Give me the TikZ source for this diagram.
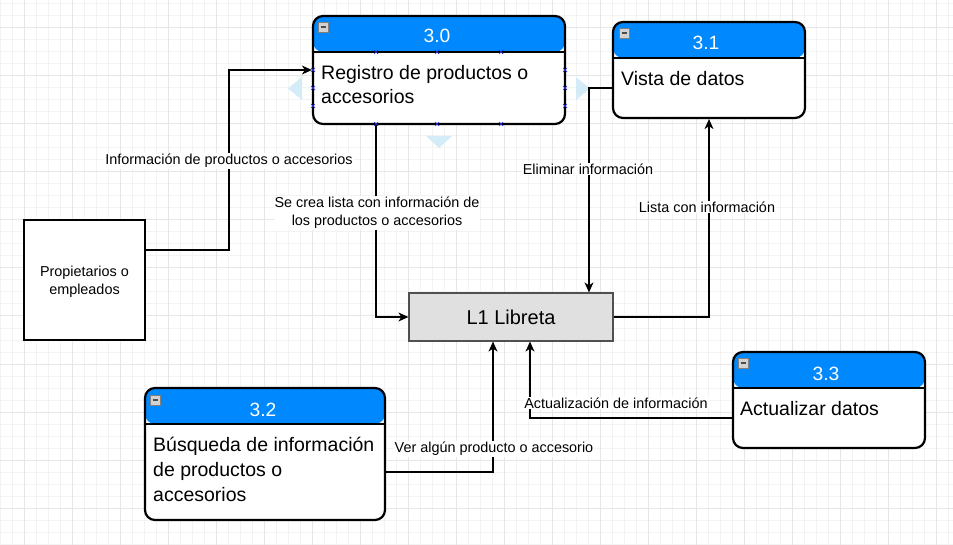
\documentclass[tikz,border=0pt]{standalone}
\usepackage{fontspec}
\setmainfont{Liberation Sans}
\usetikzlibrary{arrows.meta}
\definecolor{hdrblue}{RGB}{0,136,255}
\definecolor{gridminor}{RGB}{243,243,243}
\definecolor{gridmajor}{RGB}{230,230,230}
\definecolor{storefill}{RGB}{224,224,224}
\definecolor{storeline}{RGB}{80,80,80}
\definecolor{hintblue}{RGB}{212,236,248}
\definecolor{handleblue}{RGB}{40,40,230}
\begin{document}
\begin{tikzpicture}[x=1pt,y=-1pt,
  proc/.style={draw=black, line width=2.2pt, rounded corners=10pt, fill=white, inner sep=0pt,
    path picture={\fill[hdrblue] (path picture bounding box.north west) rectangle ([yshift=-#1]path picture bounding box.north east);
      \draw[black, line width=2pt] ([yshift=-#1]path picture bounding box.north west) -- ([yshift=-#1]path picture bounding box.north east);}},
  ptitle/.style={text=white, font=\fontsize{19.2}{23}\selectfont, inner sep=0pt},
  pbody/.style={align=left, font=\fontsize{19.5}{24.6}\selectfont, inner sep=0pt},
  store/.style={draw=storeline, line width=1.2pt, fill=storefill, inner sep=0pt, font=\fontsize{20}{24}\selectfont},
  extent/.style={draw=black, line width=2pt, fill=white, inner sep=0pt},
  lbl/.style={fill=white, inner sep=1pt, align=center, font=\fontsize{14.4}{18}\selectfont},
  flow/.style={draw=black, line width=1.2pt, -{Stealth[length=10pt,width=9pt,inset=3pt]}},
  handle/.style={draw=handleblue, line width=0.7pt},
  mini/.style={draw=gray, fill=gray!35, line width=0.6pt}
]
\useasboundingbox (0,0) rectangle (953,545);
\fill[white] (0,0) rectangle (953,545);
% grid
\foreach \x in {0,12,...,953} \draw[gridminor, line width=1pt] (\x,0) -- (\x,545);
\foreach \y in {4,16,...,545} \draw[gridminor, line width=1pt] (0,\y) -- (953,\y);
\foreach \x in {24,72,...,953} \draw[gridmajor, line width=1pt] (\x,0) -- (\x,545);
\foreach \y in {28,76,...,545} \draw[gridmajor, line width=1pt] (0,\y) -- (953,\y);

% hover hints around 3.0
\fill[hintblue] (302,77) -- (302,100) -- (288,88.5) -- cycle;
\fill[hintblue] (576,77) -- (576,100) -- (590,88.5) -- cycle;
\fill[hintblue] (426,136) -- (452,136) -- (439,148) -- cycle;

% nodes
\node[proc=36pt, minimum width=252pt, minimum height=108pt] (p30) at (439,70) {};
\node[proc=36pt, minimum width=192pt, minimum height=96pt] (p31) at (709,70) {};
\node[proc=36pt, minimum width=240pt, minimum height=132pt] (p32) at (265,454) {};
\node[proc=36pt, minimum width=192pt, minimum height=96pt] (p33) at (829,400) {};
\node[store, minimum width=204pt, minimum height=48pt] (L1) at (511,317) {L1 Libreta};
\node[extent, minimum width=121pt, minimum height=120pt] (ext) at (84.5,280) {};
\node[lbl, fill=none, inner sep=0pt, anchor=base] (exttext) at (84.5,295) {Propietarios o\\empleados};

% titles
\node[ptitle, anchor=base] (t30) at (437,43) {3.0};
\node[ptitle, anchor=base] (t31) at (706,50) {3.1};
\node[ptitle, anchor=base] (t32) at (263,416) {3.2};
\node[ptitle, anchor=base] (t33) at (826,380) {3.3};

% minus icons
\foreach \px/\py in {318/22, 619/28, 150/395, 738/358} {
  \draw[mini] (\px,\py) rectangle ++(10,10);
  \draw[black!70, line width=1.2pt] (\px+2.5,\py+5) -- ++(5,0);
}

% bodies (anchor base = baseline of the last line)
\node[pbody, anchor=base west] (b30) at (321,104) {Registro de productos o\\accesorios};
\node[pbody, anchor=base west] (b31) at (621,86) {Vista de datos};
\node[pbody, anchor=base west] (b32) at (153,501) {Búsqueda de información\\de productos o\\accesorios};
\node[pbody, anchor=base west] (b33) at (740,415) {Actualizar datos};

% connectors
\draw[flow] ([yshift=30pt]ext.east) -| (229,200) |- (p30.west);
\draw[flow] ([xshift=-63pt]p30.south) |- (L1.west);
\draw[flow] ([yshift=-18pt]p31.west) -| ([xshift=78pt]L1.north);
\draw[flow] (L1.east) -| (p31.south);
\draw[flow] ([yshift=-18pt]p32.east) -| ([xshift=-18pt]L1.south);
\draw[flow] ([yshift=-18pt]p33.west) -| ([xshift=19pt]L1.south);

% labels
\node[lbl] (l1) at (229,161) {Información de productos o accesorios};
\node[lbl] (l2) at (377,213) {Se crea lista con información de\\los productos o accesorios};
\node[lbl] (l3) at (588,169) {Eliminar información};
\node[lbl] (l4) at (707,207) {Lista con información};
\node[lbl] (l5) at (494,449) {Ver algún producto o accesorio};
\node[lbl] (l6) at (616,403) {Actualización de información};

% selection handles on 3.0
\foreach \hx/\hy in {376/52, 437/52, 501/52, 313/70, 313/88, 313/106, 565/70, 565/88, 565/106, 376/124, 437/124, 501/124} {
  \draw[handle] (\hx-2,\hy-2) -- (\hx+2,\hy+2) (\hx-2,\hy+2) -- (\hx+2,\hy-2);
}
\end{tikzpicture}
\end{document}
